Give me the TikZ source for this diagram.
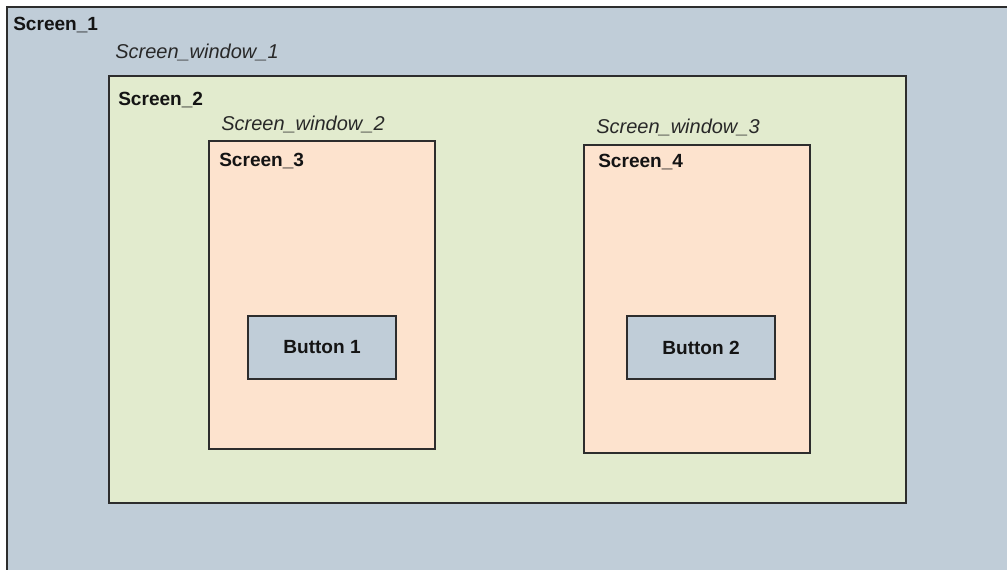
\documentclass[tikz,border=0pt]{standalone}
\usepackage{fontspec}
\setmainfont{Liberation Sans}
\definecolor{screenblue}{RGB}{192,205,216}
\definecolor{screengreen}{RGB}{226,235,206}
\definecolor{screenpeach}{RGB}{253,227,206}
\definecolor{edgegrey}{RGB}{45,45,45}
\definecolor{inktext}{RGB}{20,20,20}
\definecolor{softtext}{RGB}{40,40,40}
\tikzset{
  panel/.style={draw=edgegrey, line width=0.9pt, inner sep=0pt, outer sep=0pt, anchor=north west},
  title/.style={font=\fontsize{14.3pt}{16pt}\selectfont\bfseries, text=inktext, anchor=base west, inner sep=0pt},
  winlabel/.style={font=\fontsize{15pt}{17pt}\selectfont\itshape, text=softtext, anchor=base west, inner sep=0pt},
  btnlabel/.style={font=\fontsize{14.3pt}{16pt}\selectfont\bfseries, text=inktext, inner sep=0pt}
}
\begin{document}
\begin{tikzpicture}[x=0.75pt, y=-0.75pt]
  \useasboundingbox (0,0) rectangle (1007,570);
  \fill[white] (0,0) rectangle (1007,570);
  \clip (0,0) rectangle (1007,570);

  % outermost screen, running off the right and bottom edges
  \node[panel, fill=screenblue, minimum width={1040*0.75pt}, minimum height={600*0.75pt}] (s1) at (7,7) {};
  \node[title] (t1) at (13,31) {Screen\_1};
  \node[winlabel] (w1) at (115,59) {Screen\_window\_1};

  % second screen
  \node[panel, fill=screengreen, minimum width={797*0.75pt}, minimum height={427*0.75pt}] (s2) at (109,76) {};
  \node[title] (t2) at (118,106) {Screen\_2};

  % left inner screen
  \node[winlabel] (w2) at (221,131) {Screen\_window\_2};
  \node[panel, fill=screenpeach, minimum width={226*0.75pt}, minimum height={308*0.75pt}] (s3) at (209,141) {};
  \node[title] (t3) at (219,167) {Screen\_3};
  \node[panel, fill=screenblue, minimum width={148*0.75pt}, minimum height={63*0.75pt}] (b1) at (248,316) {};
  \node[btnlabel] (l1) at (b1.center) {Button 1};

  % right inner screen
  \node[winlabel] (w3) at (596,134) {Screen\_window\_3};
  \node[panel, fill=screenpeach, minimum width={226*0.75pt}, minimum height={308*0.75pt}] (s4) at (584,145) {};
  \node[title] (t4) at (598,168) {Screen\_4};
  \node[panel, fill=screenblue, minimum width={148*0.75pt}, minimum height={63*0.75pt}] (b2) at (627,316) {};
  \node[btnlabel] (l2) at (b2.center) {Button 2};
\end{tikzpicture}
\end{document}
